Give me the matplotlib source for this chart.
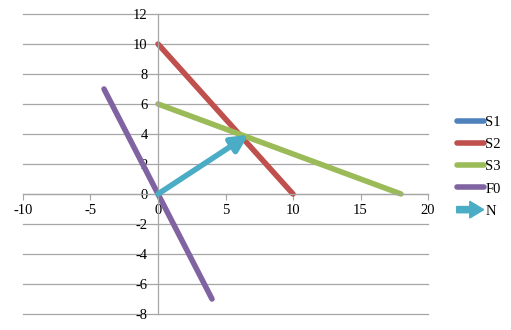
import matplotlib
matplotlib.use("Agg")
import matplotlib.pyplot as plt
from matplotlib.lines import Line2D
from matplotlib.patches import FancyArrow
from matplotlib.legend_handler import HandlerPatch

plt.rcParams['font.family'] = ['Liberation Serif', 'DejaVu Serif']

# Data
s1_x, s1_y = [], []
s2_x, s2_y = [0, 10], [10, 0]
s3_x, s3_y = [0, 18], [6, 0]
f0_x, f0_y = [-4, 4], [7, -7]
n_x, n_y = [0, 6.7], [0, 3.95]
x_ticks = [-10, -5, 0, 5, 10, 15, 20]
y_ticks = [-8, -6, -4, -2, 0, 2, 4, 6, 8, 10, 12]

c_s1 = '#4F81BD'
c_s2 = '#C0504D'
c_s3 = '#9BBB59'
c_f0 = '#8064A2'
c_n = '#4BACC6'
lw = 4.0

fig = plt.figure(figsize=(5.11, 3.30), dpi=100)
ax = fig.add_axes([0.045, 0.0485, 0.7926, 0.9091])

ax.set_xlim(-10, 20)
ax.set_ylim(-8, 12)
for yv in y_ticks:
    ax.axhline(yv, color='#A6A6A6', lw=0.9, zorder=0, clip_on=False)

h1, = ax.plot(s1_x, s1_y, color=c_s1, lw=lw, solid_capstyle='round', label='S1')
h2, = ax.plot(s2_x, s2_y, color=c_s2, lw=lw, solid_capstyle='round', label='S2')
h3, = ax.plot(s3_x, s3_y, color=c_s3, lw=lw, solid_capstyle='round', label='S3')
h4, = ax.plot(f0_x, f0_y, color=c_f0, lw=lw, solid_capstyle='round', label='F0')
ax.annotate('', xy=(n_x[1], n_y[1]), xytext=(n_x[0], n_y[0]),
            arrowprops=dict(arrowstyle='-|>,head_length=1.0,head_width=0.5',
                            color=c_n, lw=lw, shrinkA=0, shrinkB=0,
                            mutation_scale=10), zorder=5)

ax.spines['left'].set_position(('data', 0))
ax.spines['bottom'].set_position(('data', 0))
for s in ['top', 'right']:
    ax.spines[s].set_visible(False)
for s in ['left', 'bottom']:
    ax.spines[s].set_color('#A6A6A6')
    ax.spines[s].set_linewidth(0.9)

ax.set_xticks(x_ticks)
ax.set_yticks(y_ticks)
ax.set_xticklabels([str(v) for v in x_ticks])
ax.set_yticklabels([str(v) for v in y_ticks])
ax.tick_params(axis='x', direction='out', length=4, color='#A6A6A6', labelsize=10.5, pad=3.5)
ax.tick_params(axis='y', direction='out', length=0, labelsize=10.5, pad=7.5)

class ArrowHandler(HandlerPatch):
    def create_artists(self, legend, orig_handle, xdescent, ydescent, width, height, fontsize, trans):
        a = FancyArrow(-xdescent, height / 2 - ydescent, width, 0, width=4.5,
                       head_width=12, head_length=10, length_includes_head=True,
                       color=c_n, transform=trans)
        return [a]

arrow_handle = FancyArrow(0, 0, 1, 0, color=c_n)
leg = fig.legend([h1, h2, h3, h4, arrow_handle], ['S1', 'S2', 'S3', 'F0', 'N'],
                 handler_map={FancyArrow: ArrowHandler()},
                 loc='center left', bbox_to_anchor=(0.868, 0.495), frameon=False,
                 fontsize=10.5, handlelength=1.85, handletextpad=0.1, labelspacing=0.62)

fig.savefig('out.png', dpi=100)
